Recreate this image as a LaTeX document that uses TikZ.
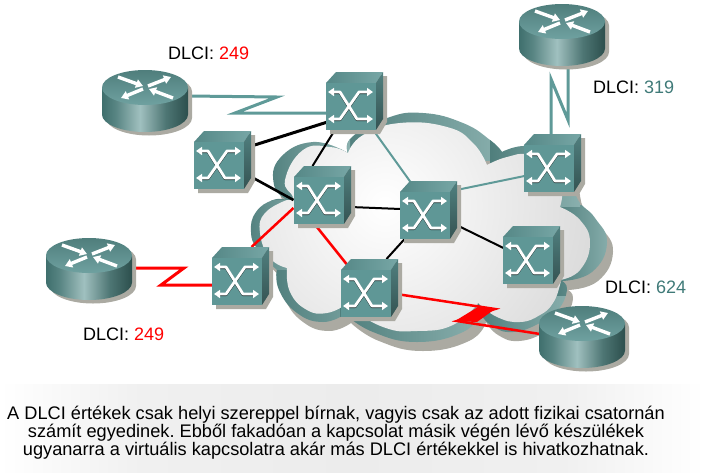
\documentclass[tikz,border=0pt]{standalone}
\usepackage{fontspec}
\setmainfont{Liberation Sans}
\usetikzlibrary{calc,arrows.meta}
\definecolor{swfront}{HTML}{5F9796}
\definecolor{shadowgray}{HTML}{ABAAA2}
\definecolor{tealline}{HTML}{5F9A98}
\definecolor{tealtext}{HTML}{3F7A78}
\definecolor{bandA}{HTML}{4F7E7C}
\definecolor{bandB}{HTML}{8AB0AE}
\definecolor{rbA}{RGB}{63,111,109}
\definecolor{rbB}{RGB}{88,133,131}
\definecolor{rbC}{RGB}{160,192,191}
\definecolor{rbD}{RGB}{78,118,116}
\definecolor{rbE}{RGB}{44,79,77}
\definecolor{capA}{RGB}{240,240,240}
\definecolor{capB}{RGB}{236,236,236}
\pgfdeclarehorizontalshading{routerbody}{100bp}{
  color(0bp)=(rbA);
  color(25bp)=(rbA);
  color(33bp)=(rbB);
  color(47bp)=(rbC);
  color(62bp)=(rbD);
  color(75bp)=(rbE);
  color(100bp)=(rbE)}
\pgfdeclarehorizontalshading{captionband}{100bp}{
  color(0bp)=(white);
  color(25bp)=(white);
  color(35bp)=(capA);
  color(50bp)=(capB);
  color(65bp)=(capA);
  color(75bp)=(white);
  color(100bp)=(white)}
\newcommand{\cloudouter}{
  plot[smooth,tension=.8] coordinates {(348,153)(352,137)(387,118)(423,113)(463,123)(490,140)(502,152)}
  -- plot[smooth,tension=.8] coordinates {(502,152)(523,146)(550,150)(570,175)(578,200)(595,218)(607,243)(592,272)(562,281)}
  -- plot[smooth,tension=.8] coordinates {(562,281)(567,290)(558,310)(540,323)(513,332)(492,326)(480,313)}
  -- plot[smooth,tension=.8] coordinates {(480,313)(463,332)(417,342)(373,332)(345,314)}
  -- plot[smooth,tension=.8] coordinates {(345,314)(323,322)(297,313)(279,290)(277,270)}
  -- plot[smooth,tension=.8] coordinates {(277,270)(258,250)(251,232)(256,212)(273,200)(287,200)}
  -- plot[smooth,tension=.8] coordinates {(287,200)(274,185)(280,158)(313,142)(348,153)}
  -- cycle}
\newcommand{\cloudinner}{
  plot[smooth,tension=.8] coordinates {(348,153)(363,135)(400,123)(447,127)(473,143)(487,165)}
  -- plot[smooth,tension=.8] coordinates {(487,165)(507,157)(530,155)(555,170)(562,190)(560,207)}
  -- plot[smooth,tension=.8] coordinates {(560,207)(580,220)(590,243)(580,270)(560,280)}
  -- plot[smooth,tension=.8] coordinates {(560,280)(560,285)(553,303)(540,315)(520,322)(497,317)(478,303)}
  -- plot[smooth,tension=.8] coordinates {(478,303)(453,325)(417,331)(383,327)(345,305)}
  -- plot[smooth,tension=.8] coordinates {(345,305)(327,313)(307,310)(290,292)(287,268)}
  -- plot[smooth,tension=.8] coordinates {(287,268)(270,258)(260,233)(265,213)(287,200)}
  -- plot[smooth,tension=.8] coordinates {(287,200)(293,197)(285,180)(303,150)(330,147)(348,153)}
  -- cycle}
\tikzset{
  devbox/.style={inner sep=0pt,minimum width=57pt,minimum height=58pt},
  routerbox/.style={inner sep=0pt,minimum width=86pt,minimum height=62pt},
  dlci/.style={anchor=base west,inner sep=0pt,font=\fontsize{18}{18}\selectfont},
  thicklink/.style={line width=3pt,miter limit=20},
  thinlink/.style={line width=2pt},
  blacklink/.style={black},
  teallink/.style={tealline},
  redlink/.style={red},
  xpath/.style={white,line width=2.8pt,line join=round},
  xunder/.style={black!70!swfront,line width=2.8pt,line join=round},
  rarrow/.style={white,line width=3.4pt,-{Triangle[width=8.5pt,length=7pt]}}
}
\newcommand{\swdraw}[1]{
  \begin{scope}[shift={(#1.center)},shift={(-28.5,-29)}]
    \fill[shadowgray] (4,15)--(13,4)--(61,4)--(61,50)--(54,62)--(4,62)--cycle;
    \shade[left color=swfront!90!black,right color=swfront!85!white] (0,11)--(10,0)--(57,0)--(50,11)--cycle;
    \shade[top color=swfront!85!black,bottom color=swfront!55!black] (50,11)--(57,0)--(57,47)--(50,58)--cycle;
    \fill[swfront] (0,11) rectangle (50,58);
    \draw[xunder] (4,20.7)--(14,20.7)--(31,47.7)--(44,47.7);
    \draw[xunder] (4,47.7)--(14,47.7)--(33,20.7)--(44,20.7);
    \draw[xpath,{Triangle[width=8pt,length=6pt]}-{Triangle[width=8pt,length=6pt]}] (2,20)--(14,20)--(31,47)--(47,47);
    \draw[xpath,{Triangle[width=8pt,length=6pt]}-{Triangle[width=8pt,length=6pt]}] (2,47)--(14,47)--(33,20)--(47,20);
  \end{scope}}
\newcommand{\rtdraw}[1]{
  \begin{scope}[shift={(#1.center)},shift={(-43,-31)}]
    \fill[shadowgray] (4,21.5) -- (90,21.5) -- (90,48) arc[start angle=0,end angle=180,x radius=43,y radius=17.5] -- cycle;
    \fill[shadowgray] (47,21.5) ellipse[x radius=43,y radius=17.5];
    \shade[shading=routerbody] (0,17.5) -- (86,17.5) -- (86,44.5) arc[start angle=0,end angle=180,x radius=43,y radius=17.5] -- cycle;
    \shade[top color=bandA,bottom color=swfront!90!white] (43,17.5) ellipse[x radius=43,y radius=17.5];
    \draw[rarrow] (16,7)--(41,16);
    \draw[rarrow] (46,16)--(69,7);
    \draw[rarrow] (41,19)--(19,28);
    \draw[rarrow] (71,28)--(47,19);
  \end{scope}}
\begin{document}
\begin{tikzpicture}[x=1pt,y=-1pt]
\useasboundingbox (0,0) rectangle (704,472);
% nodes
\node[devbox] (s1) at (354.5,101) {};
\node[devbox] (s2) at (222.5,160) {};
\node[devbox] (s3) at (322.5,195) {};
\node[devbox] (s4) at (428.5,210) {};
\node[devbox] (s5) at (552.5,163) {};
\node[devbox] (s6) at (531.5,255) {};
\node[devbox] (s7) at (369.5,288) {};
\node[devbox] (s8) at (240.5,276) {};
\node[routerbox] (r1) at (145,101) {};
\node[routerbox] (r2) at (562,35) {};
\node[routerbox] (r3) at (89,269) {};
\node[routerbox] (r4) at (582,337) {};
% caption band
\shade[shading=captionband] (0,384) rectangle (704,472);
% cloud
\fill[shadowgray,shift={(6,9)}] \cloudouter;
\begin{scope}
  \clip \cloudouter;
  \shade[left color=bandA,right color=bandB] (340,105) rectangle (505,160);
  \shade[left color=bandA,right color=bandB] (265,135) rectangle (350,200);
  \shade[left color=bandA,right color=bandB!80!bandA] (245,200) rectangle (295,275);
  \shade[left color=bandA,right color=bandB!60!bandA] (270,270) rectangle (345,330);
  \shade[left color=bandA,right color=bandB] (340,305) rectangle (482,350);
  \shade[left color=bandA,right color=bandB] (478,295) rectangle (570,340);
  \shade[left color=bandA,right color=bandB] (555,205) rectangle (612,295);
  \shade[left color=bandA,right color=bandB] (490,140) rectangle (580,206);
\end{scope}
\begin{scope}
  \clip \cloudinner;
  \shade[inner color=white,outer color=black!20] (385,205) circle (300);
\end{scope}
% connectors
\draw[blacklink,line width=3pt] ($(s1.center)+(-27,21)$) -- ($(s2.center)+(29,-14)$);
\draw[blacklink,line width=2.6pt] ($(s2.center)+(29,17)$) -- ($(s3.center)+(-29,5)$);
\draw[blacklink,thinlink] ($(s1.center)+(-19,28)$) -- ($(s3.center)+(-10,-29)$);
\draw[blacklink,thinlink] ($(s3.center)+(28,12)$) -- ($(s4.center)+(-28,-1)$);
\draw[blacklink,thinlink] ($(s4.center)+(-23,28)$) -- ($(s7.center)+(17,-29)$);
\draw[blacklink,thinlink] ($(s4.center)+(28,15)$) -- ($(s6.center)+(-28,-7)$);
\draw[teallink,thinlink] ($(s1.center)+(18,28)$) -- ($(s4.center)+(-18,-28)$);
\draw[teallink,thinlink] ($(s4.center)+(28,-20)$) -- ($(s5.center)+(-28,13)$);
\draw[redlink,line width=2.5pt] ($(s3.center)+(-29,13)$) -- ($(s8.center)+(11,-29)$);
\draw[redlink,line width=2.5pt] ($(s3.center)+(-8,29)$) -- ($(s7.center)+(-23,-24)$);
\draw[redlink,line width=2.5pt] ($(s7.center)+(27,6)$) -- (495,309) -- (457,321) -- ($(r4.center)+(-42,-3)$);
\fill[red] (478,307) -- (495,309) -- (477,322) -- (455,321) -- cycle;
\draw[redlink,thicklink] ($(r3.center)+(43,-1)$) -- (184,268) -- (161,285) -- ($(s8.center)+(-28,9)$);
\draw[teallink,thicklink] ($(r1.center)+(43,-5)$) -- (277,97) -- (235,113) -- ($(s1.center)+(-27,12)$);
\draw[teallink,thicklink] ($(r2.center)+(6,31)$) -- (568,120) -- (551,79) -- ($(s5.center)+(-1.5,-29)$);
% devices
\foreach \n in {s1,s2,s3,s4,s5,s6,s7,s8} {\swdraw{\n}}
\foreach \n in {r1,r2,r3,r4} {\rtdraw{\n}}
% labels
\node[dlci] (l1) at (168,59) {DLCI: \textcolor{red}{249}};
\node[dlci] (l2) at (593,93) {DLCI: \textcolor{tealtext}{319}};
\node[dlci] (l3) at (83,340) {DLCI: \textcolor{red}{249}};
\node[dlci] (l4) at (605,293) {DLCI: \textcolor{tealtext}{624}};
\node[align=center,inner sep=0pt,font=\frenchspacing\fontsize{18.2}{18}\selectfont] (cap) at (336,433)
 {A DLCI értékek csak helyi szereppel bírnak, vagyis csak az adott fizikai csatornán\\
  számít egyedinek. Ebből fakadóan a kapcsolat másik végén lévő készülékek\\
  ugyanarra a virtuális kapcsolatra akár más DLCI értékekkel is hivatkozhatnak.};
\end{tikzpicture}
\end{document}
